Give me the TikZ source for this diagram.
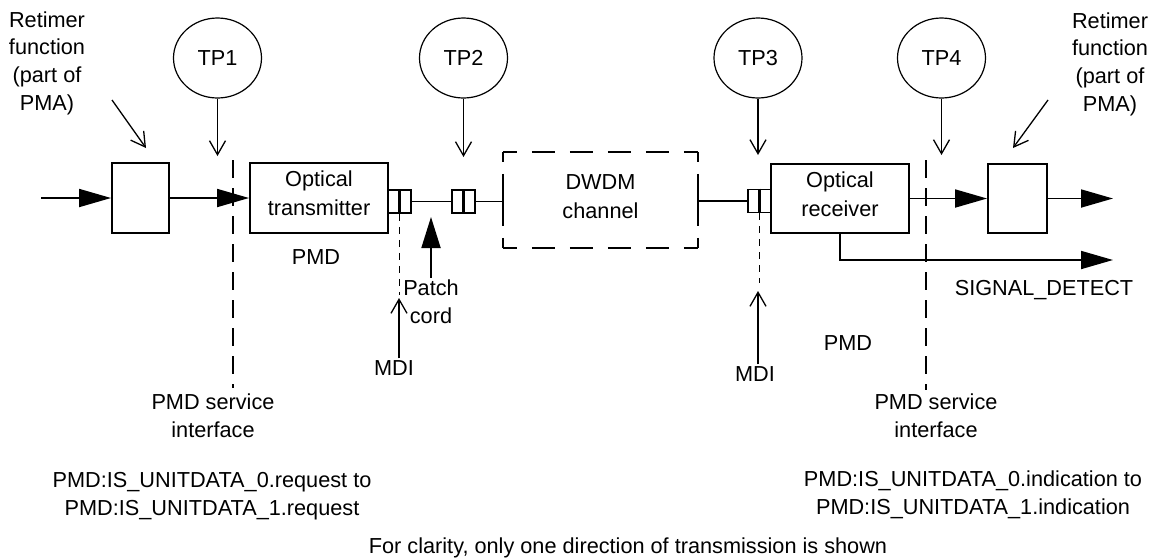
\documentclass[tikz,border=0pt]{standalone}
\usepackage{fontspec}
\setmainfont{Liberation Sans}
\usetikzlibrary{arrows.meta,shapes.geometric}
\begin{document}
\begin{tikzpicture}[x=1pt,y=-1pt,
  txt/.style={font=\fontsize{21.7}{27.7}\selectfont, align=center, inner sep=0pt},
  boxtxt/.style={font=\fontsize{21.7}{29}\selectfont, align=center, inner sep=0pt},
  blk/.style={draw, line width=1.9pt, inner sep=0pt},
  conn/.style={draw, line width=1.7pt, minimum width=23pt, minimum height=23pt, inner sep=0pt},
  bar/.style={line width=3pt},
  tp/.style={draw, ellipse, line width=1.2pt, minimum width=88pt, minimum height=80pt,
             inner sep=0pt, font=\fontsize{21.7}{26}\selectfont},
  wire/.style={line width=1.8pt},
  flow/.style={line width=1.8pt, -{Triangle[length=32pt,width=18pt]}},
  probe/.style={line width=1.3pt, -{Straight Barb[length=14pt,width=16pt,line width=1.3pt]}},
  sif/.style={line width=1.7pt, dash pattern=on 18pt off 10pt},
  mdiline/.style={line width=1.8pt, dash pattern=on 7pt off 6pt},
  hside/.style={line width=1.8pt, dash pattern=on 23pt off 15pt, dash phase=9pt},
  vside/.style={line width=1.8pt, dash pattern=on 20pt off 12pt, dash phase=10pt},
]
\useasboundingbox (0,0) rectangle (1152,558);

% ---- blocks on the signal path ----
\node[blk, minimum width=57pt, minimum height=70pt] (rtL) at (140.5,198) {};
\node[blk, minimum width=138pt, minimum height=70pt] (tx) at (319,198) {};
\node[boxtxt] (txl) at (319,193) {Optical\\transmitter};
\node[conn] (c1) at (399.5,201.5) {};
\node[conn] (c2) at (463.5,201.5) {};
\node[inner sep=0pt, minimum width=195pt, minimum height=96pt] (dw) at (600.5,200) {};
\node[boxtxt] (dwl) at (600.5,196.5) {DWDM\\channel};
\node[conn] (c3) at (759.5,201) {};
\node[blk, minimum width=138pt, minimum height=69pt] (rx) at (840,198.5) {};
\node[boxtxt] (rxl) at (840,194) {Optical\\receiver};
\node[blk, minimum width=59pt, minimum height=69pt] (rtR) at (1017.5,198.5) {};

% connector ferrules
\draw[bar] (c1.north) -- (c1.south);
\draw[bar] (c2.north) -- (c2.south);
\draw[bar] (c3.north) -- (c3.south);

% dashed outline of the DWDM channel
\draw[hside] (dw.north west) -- (dw.north east);
\draw[hside] (dw.south west) -- (dw.south east);
\draw[vside] (dw.north west) -- (dw.south west);
\draw[vside] (dw.north east) -- (dw.south east);
\draw[wire] ([yshift=15pt]dw.west) -- ([yshift=-15pt]dw.west);
\draw[wire] ([yshift=15pt]dw.east) -- ([yshift=-15pt]dw.east);

% ---- signal flow ----
\coordinate (inL) at (41,198);
\coordinate (outR) at (1113,198.5);
\coordinate (sigEnd) at (1113,260);
\draw[flow] (inL) -- (rtL.west);
\draw[flow] (rtL.east) -- (tx.west);
\draw[wire] (c1.east) -- (c2.west);
\draw[wire] (c2.east) -- (c2.east -| dw.west);
\draw[wire] (dw.east |- c3.west) -- (c3.west);
\draw[flow] (rx.east) -- (rtR.west);
\draw[flow] (rtR.east) -- (outR);
\draw[flow] (rx.south) -- (rx.south |- sigEnd) -- (sigEnd);

% ---- test points ----
\node[tp] (tp1) at (217.5,58) {TP1};
\node[tp] (tp2) at (463.5,58) {TP2};
\node[tp] (tp3) at (758,58) {TP3};
\node[tp] (tp4) at (941.5,58) {TP4};
\coordinate (tp1tip) at (217.5,156);
\coordinate (tp2tip) at (463.5,157);
\coordinate (tp3tip) at (758,155);
\coordinate (tp4tip) at (941.5,155);
\draw[probe] (tp1.south) -- (tp1tip);
\draw[probe] (tp2.south) -- (tp2tip);
\draw[probe] (tp3.south) -- (tp3tip);
\draw[probe] (tp4.south) -- (tp4tip);

% ---- PMD service interfaces ----
\coordinate (sifLtop) at (233,160);
\coordinate (sifLbot) at (233,388);
\coordinate (sifRtop) at (926,160);
\coordinate (sifRbot) at (926,390);
\draw[sif] (sifLtop) -- (sifLbot);
\draw[sif] (sifRtop) -- (sifRbot);
\node[txt] (sifL) at (213,415.5) {PMD service\\interface};
\node[txt] (sifR) at (936,415.5) {PMD service\\interface};

% ---- MDI markers ----
\coordinate (mdiLend) at (399.5,295);
\coordinate (mdiLtip) at (399,298);
\coordinate (mdiRend) at (759.5,283);
\coordinate (mdiRtip) at (758,291);
\draw[mdiline] (c1.south) -- (mdiLend);
\draw[mdiline] (c3.south) -- (mdiRend);
\node[txt, inner sep=2pt] (mdiL) at (394,368) {MDI};
\node[txt, inner sep=2pt] (mdiR) at (755,374) {MDI};
\draw[probe] (mdiL.north -| mdiLtip) -- (mdiLtip);
\draw[probe] (mdiR.north -| mdiRtip) -- (mdiRtip);

% ---- patch cord ----
\node[txt, inner sep=2pt] (patch) at (431,302) {Patch\\cord};
\coordinate (patchtip) at (431,217);
\draw[line width=1.8pt, -{Triangle[length=31pt,width=19pt]}] (patch.north) -- (patchtip);

% ---- retimer callouts ----
\node[txt] (retL) at (47,63) {Retimer\\function\\(part of\\PMA)};
\node[txt] (retR) at (1110,64) {Retimer\\function\\(part of\\PMA)};
\coordinate (rpL0) at (112,100);
\coordinate (rpL1) at (146,148);
\coordinate (rpR0) at (1048,100);
\coordinate (rpR1) at (1013,148);
\draw[probe] (rpL0) -- (rpL1);
\draw[probe] (rpR0) -- (rpR1);

% ---- other labels ----
\node[txt] (pmdTx) at (316,257) {PMD};
\node[txt] (pmdRx) at (848,343) {PMD};
\node[txt] (sigdet) at (1044,290) {SIGNAL\_DETECT};
\node[txt] (req) at (212,496) {PMD:IS\_UNITDATA\_0.request to\\PMD:IS\_UNITDATA\_1.request};
\node[txt] (ind) at (973,495) {PMD:IS\_UNITDATA\_0.indication to\\PMD:IS\_UNITDATA\_1.indication};
\node[txt] (note) at (628,548) {For clarity, only one direction of transmission is shown};
\end{tikzpicture}
\end{document}
